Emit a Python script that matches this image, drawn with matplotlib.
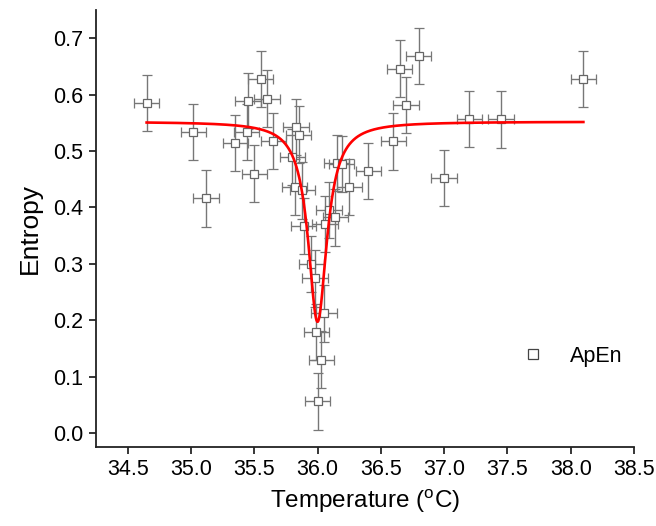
#!/usr/bin/env python3
"""ApEn entropy vs temperature with Lorentzian dip fit."""

import numpy as np
import matplotlib

matplotlib.use("Agg")
import matplotlib.pyplot as plt
from matplotlib.lines import Line2D
from matplotlib.ticker import FormatStrFormatter

# data
temp = [34.65, 35.02, 35.12, 35.35, 35.44, 35.45, 35.50, 35.55, 35.60, 35.65,
        35.80, 35.82, 35.83, 35.85, 35.88, 35.89, 35.95, 35.98, 35.99, 36.00,
        36.03, 36.05, 36.06, 36.09, 36.14, 36.15, 36.19, 36.25, 36.40, 36.60,
        36.65, 36.70, 36.80, 37.00, 37.20, 37.45, 38.10]
entropy = [0.585, 0.534, 0.416, 0.514, 0.534, 0.589, 0.460, 0.628, 0.593, 0.518,
           0.489, 0.436, 0.542, 0.529, 0.430, 0.367, 0.300, 0.274, 0.179, 0.056,
           0.130, 0.212, 0.370, 0.395, 0.382, 0.479, 0.477, 0.436, 0.464, 0.517,
           0.646, 0.582, 0.668, 0.452, 0.557, 0.556, 0.628]
temp_err = 0.10
entropy_err = 0.05

# Lorentzian fit parameters
fit_base = 0.552
fit_depth = 0.355
fit_center = 36.0
fit_width = 0.09

plt.rcParams.update({
    "font.family": ["Liberation Sans", "DejaVu Sans"],
    "mathtext.fontset": "custom",
    "mathtext.rm": "Liberation Sans",
    "font.size": 15.5,
})

fig = plt.figure(figsize=(6.56, 5.26), dpi=100)
ax = fig.add_axes([0.1463, 0.1502, 0.8202, 0.8308])

ax.errorbar(temp, entropy, xerr=temp_err, yerr=entropy_err, fmt="s",
            ms=5.5, mfc="white", mec="#666666", mew=0.9,
            ecolor="#777777", elinewidth=1.0, capsize=3.5, capthick=1.0,
            zorder=2)

xf = np.linspace(min(temp), max(temp), 1500)
yf = fit_base - fit_depth * fit_width ** 2 / ((xf - fit_center) ** 2 + fit_width ** 2)
ax.plot(xf, yf, color="#ff0000", lw=1.9, zorder=3)

ax.set_xlim(34.25, 38.5)
ax.set_ylim(-0.025, 0.75)
ax.set_xticks(np.arange(34.5, 38.51, 0.5))
ax.set_yticks(np.arange(0.0, 0.71, 0.1))
ax.xaxis.set_major_formatter(FormatStrFormatter("%.1f"))
ax.yaxis.set_major_formatter(FormatStrFormatter("%.1f"))

for s in ("top", "right"):
    ax.spines[s].set_visible(False)
for s in ("left", "bottom"):
    ax.spines[s].set_linewidth(1.3)
    ax.spines[s].set_color("#222222")
ax.tick_params(direction="out", length=5, width=1.1, labelsize=15.5, pad=4)

ax.set_xlabel("Temperature ($^{\\mathrm{o}}$C)", fontsize=17.5, labelpad=5)
ax.set_ylabel("Entropy", fontsize=19, labelpad=8)

handle = Line2D([], [], ls="none", marker="s", ms=6.5, mfc="white",
                mec="#444444", mew=0.9)
ax.legend([handle], ["ApEn"], loc="center left", bbox_to_anchor=(0.792, 0.208),
          frameon=False, fontsize=15.5, borderaxespad=0, borderpad=0,
          handlelength=1.0, handletextpad=1.2)

fig.savefig("out.png", dpi=100)
